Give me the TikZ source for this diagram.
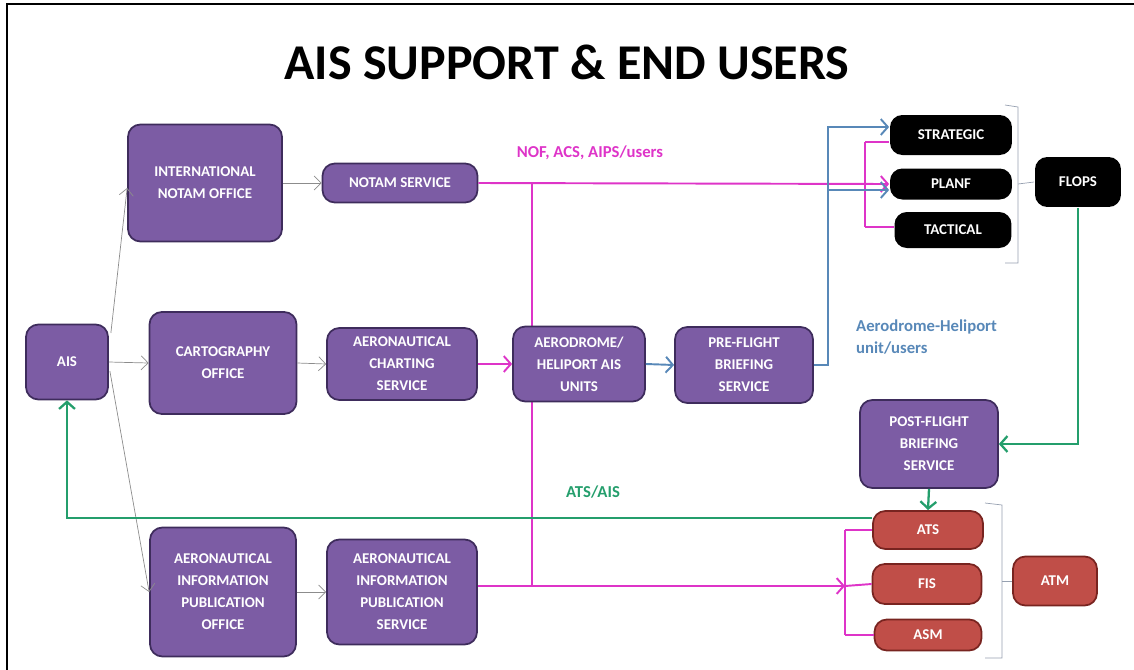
\documentclass[tikz,border=0pt]{standalone}
\usepackage{fontspec}
\setmainfont{Carlito}
\usetikzlibrary{calc}
\usetikzlibrary{arrows.meta}

\definecolor{boxpurple}{RGB}{124,92,164}
\definecolor{edgepurple}{RGB}{62,44,92}
\definecolor{boxred}{RGB}{192,78,72}
\definecolor{edgered}{RGB}{120,36,32}
\definecolor{linkmag}{RGB}{222,52,200}
\definecolor{linkblue}{RGB}{88,136,184}
\definecolor{linkgreen}{RGB}{36,158,108}
\definecolor{linkgray}{RGB}{140,140,140}
\definecolor{bracketgray}{RGB}{150,160,176}

\begin{document}
\begin{tikzpicture}
			[x=0.02cm,y=-0.02cm,
			 box/.style={draw=edgepurple,line width=1pt,fill=boxpurple,rounded corners=7pt,align=center,text=white,inner sep=1pt,font=\bfseries\fontsize{8.5}{12.5}\selectfont},
			 blackbox/.style={box,draw=none,fill=black},
			 redbox/.style={box,draw=edgered,fill=boxred},
			 size/.style 2 args={minimum width=#1cm,minimum height=#2cm},
			 gray link/.style={linkgray,thin,-{Straight Barb[length=4pt,width=8pt]}},
			 mag link/.style={linkmag,line width=1.1pt},
			 blue link/.style={linkblue,line width=1.1pt},
			 green link/.style={linkgreen,line width=1.3pt},
			 tip/.style={-{Straight Barb[length=4pt,width=9pt]}},
			 bracket/.style={bracketgray,thin},
			 label text/.style={font=\bfseries\fontsize{9.5}{13}\selectfont}]

			\useasboundingbox (0,0) rectangle (1134,670);
			\draw[line width=1.5pt] (7,670) -- (7,4) -- (1134,4);

			\node (title) at (567,62) {\bfseries\fontsize{28.5}{34}\selectfont AIS SUPPORT \& END USERS};

			% drop line from the NOTAM feed, behind the boxes
			\coordinate (drop top) at (532,183);
			\coordinate (drop bottom) at (532,586);
			\draw[mag link] (drop top) -- (drop bottom);

			\node[box,size={1.64}{1.5}] (ais) at (67,362) {AIS};
			\node[box,size={3.08}{2.34}] (inof) at (205,183) {INTERNATIONAL\\NOTAM OFFICE};
			\node[box,size={3.1}{0.78}] (notam) at (400,183) {NOTAM SERVICE};
			\node[box,size={2.94}{2.04}] (carto) at (223,363) {CARTOGRAPHY\\OFFICE};
			\node[box,size={3.0}{1.44}] (chart) at (402,364) {AERONAUTICAL\\CHARTING\\SERVICE};
			\node[box,size={2.64}{1.5}] (aero) at (579,364) {AERODROME/\\HELIPORT AIS\\UNITS};
			\node[box,size={2.76}{1.52}] (pfb) at (744,365) {PRE-FLIGHT\\BRIEFING\\SERVICE};
			\node[box,size={2.92}{2.58}] (aipo) at (223,592) {AERONAUTICAL\\INFORMATION\\PUBLICATION\\OFFICE};
			\node[box,size={3.0}{2.1}] (aips) at (402,592) {AERONAUTICAL\\INFORMATION\\PUBLICATION\\SERVICE};
			\node[box,size={2.76}{1.76}] (post) at (929,444) {POST-FLIGHT\\BRIEFING\\SERVICE};

			\node[blackbox,size={2.44}{0.8}] (strat) at (951,135) {STRATEGIC};
			\node[blackbox,size={2.44}{0.62}] (planf) at (951,184) {PLANF};
			\node[blackbox,size={2.34}{0.72}] (tact) at (953,230) {TACTICAL};
			\node[blackbox,size={1.72}{1.0}] (flops) at (1078,182) {FLOPS};

			\node[redbox,size={2.2}{0.76}] (ats) at (928,530) {ATS};
			\node[redbox,size={2.18}{0.8}] (fis) at (927,584) {FIS};
			\node[redbox,size={2.14}{0.62}] (asm) at (928,635) {ASM};
			\node[redbox,size={1.68}{0.98}] (atm) at (1055,581) {ATM};

			\node[label text,text=linkmag] (nof) at (590,153) {NOF, ACS, AIPS/users};
			\node[label text,text=linkblue,align=left,anchor=west] (aerousers) at (850,337) {Aerodrome-Heliport\\unit/users};
			\node[label text,text=linkgreen] (atsais) at (593,492) {ATS/AIS};

			\draw[gray link] ($(ais.east)+(2,-29)$) -- ($(inof.west)+(0,5)$);
			\draw[gray link] (ais.east) -- (carto.west);
			\draw[gray link] ($(ais.east)+(1,9)$) -- (aipo.west);
			\draw[gray link] (inof.east) -- (notam.west);
			\draw[gray link] (carto.east) -- (chart.west);
			\draw[gray link] (aipo.east) -- (aips.west);

			\coordinate (upper fork) at (865,184);
			\coordinate (lower fork) at (845,586);
			\draw[mag link,tip] (notam.east) -- (planf.west);
			\draw[mag link] (upper fork |- 0,142) -- (upper fork |- 0,227);
			\draw[mag link] (upper fork |- 0,142) -- ($(strat.west)+(0,7)$);
			\draw[mag link] (upper fork |- 0,227) -- ($(tact.west)+(0,-3)$);
			\draw[mag link,tip] (chart.east) -- (aero.west);
			\draw[mag link,tip] ($(aips.east)+(0,-6)$) -- (lower fork);
			\draw[mag link] (lower fork |- ats.west) -- (lower fork |- asm.west);
			\draw[mag link] (lower fork |- ats.west) -- (ats.west);
			\draw[mag link] (lower fork) -- (fis.west);
			\draw[mag link] (lower fork |- asm.west) -- (asm.west);

			\coordinate (blue riser) at (828,365);
			\draw[blue link,tip] (aero.east) -- (pfb.west);
			\draw[blue link,tip] (pfb.east) -- (blue riser) -- (blue riser |- 0,127) -- ($(strat.west)+(0,-8)$);
			\draw[blue link,tip] (blue riser |- 0,190) -- ($(planf.west)+(0,6)$);

			\draw[green link,tip] (flops.south) -- (flops.south |- post.east) -- (post.east);
			\draw[green link,tip] (post.south) -- (ats.north);
			\draw[green link,tip] ($(ats.west)+(0,-12)$) -- (ais.south |- 0,518) -- (ais.south);

			\draw[bracket] (1005,105) -- (1018,107) -- (1018,263) -- (1005,263);
			\draw[bracket] (1018,184) -- (flops.west);
			\draw[bracket] (985,503) -- (1002,505) -- (1002,658) -- (985,658);
			\draw[bracket] (1002,581) -- (atm.west);
		\end{tikzpicture}
\end{document}
